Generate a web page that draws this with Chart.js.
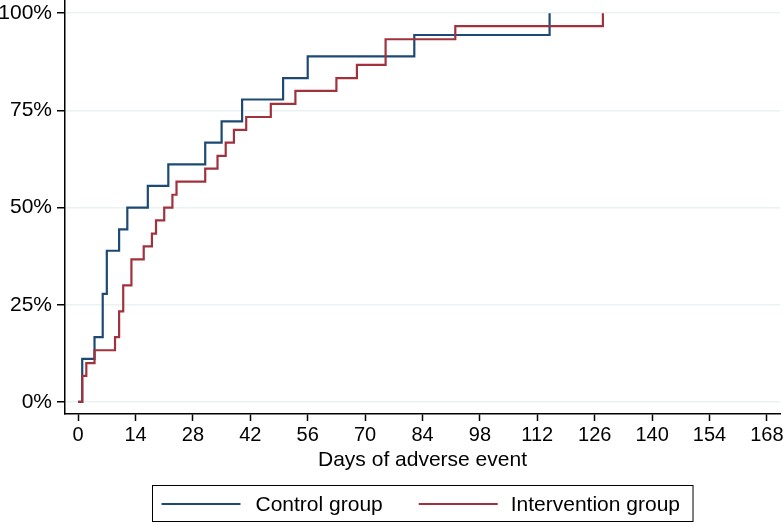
<!DOCTYPE html>
<html>
<head>
<meta charset="utf-8">
<title>Days of adverse event</title>
<script src="https://cdn.jsdelivr.net/npm/chart.js@4.4.1/dist/chart.umd.min.js"></script>
<style>
    body { margin: 0; background: #fff; }
    #wrap { width: 784px; height: 524px; }
</style>
</head>
<body>
<div id="wrap"><canvas id="aeChart" width="784" height="524"></canvas></div>
<script>
// Cumulative share of patients with an adverse event (%), step at each day
const controlDays = [0, 1, 4, 6, 7, 10, 12, 17, 22, 31, 35, 40, 50, 56, 82, 115];
const controlPct = [0, 11.1, 16.7, 27.8, 38.9, 44.4, 50.0, 55.6, 61.1, 66.7, 72.2, 77.8, 83.3, 88.9, 94.4, 100];

const interventionDays = [0, 1, 2, 4, 9, 10, 11, 13, 16, 18, 19, 21, 23, 24, 31, 34, 36, 38, 41, 47, 53, 63, 68, 75, 92, 128];
const interventionPct = [0, 6.7, 10.0, 13.3, 16.7, 23.3, 30.0, 36.7, 40.0, 43.3, 46.7, 50.0, 53.3, 56.7, 60.0, 63.3, 66.7, 70.0, 73.3, 76.7, 80.0, 83.3, 86.7, 93.3, 96.7, 100];

const xTicks = [0, 14, 28, 42, 56, 70, 84, 98, 112, 126, 140, 154, 168];
const yTicks = [0, 25, 50, 75, 100];

const seriesNames = ['Control group', 'Intervention group'];
const seriesColors = ['#1c4a74', '#a0323e'];

const FONT = '"Liberation Sans", Arial, Helvetica, sans-serif';

function toPoints(days, pct) {
    return days.map((d, i) => ({ x: d, y: pct[i] }));
}

// legend in a framed box under the axis title
const boxedLegend = {
    id: 'boxedLegend',
    afterDraw(chart) {
        const ctx = chart.ctx;
        const area = chart.chartArea;
        ctx.save();
        ctx.font = `21px ${FONT}`;
        const lineLen = 79;
        const textW = seriesNames.map(n => ctx.measureText(n).width);
        const widths = [9 + lineLen + 15 + textW[0] + 36, lineLen + 13 + textW[1] + 13];
        const boxW = widths[0] + widths[1];
        const left = Math.round((area.left + area.right) / 2 - boxW / 2) + 0.5;
        const top = 485.5, h = 36, midY = top + 18.5;

        ctx.strokeStyle = '#000';
        ctx.lineWidth = 1;
        ctx.strokeRect(left, top, boxW, h);

        let x = left + 9;
        seriesNames.forEach((name, i) => {
            ctx.strokeStyle = seriesColors[i];
            ctx.lineWidth = 2;
            ctx.beginPath();
            ctx.moveTo(x, midY);
            ctx.lineTo(x + lineLen, midY);
            ctx.stroke();
            ctx.fillStyle = '#000';
            ctx.textBaseline = 'middle';
            ctx.fillText(name, x + lineLen + (i === 0 ? 15 : 13), midY + 1);
            x += i === 0 ? widths[0] - 9 : 0;
        });
        ctx.restore();
    }
};

function renderChart() {
    const ctx = document.getElementById('aeChart').getContext('2d');

    new Chart(ctx, {
        type: 'line',
        data: {
            datasets: [{
                label: seriesNames[0],
                data: toPoints(controlDays, controlPct),
                borderColor: seriesColors[0],
                borderWidth: 2.2,
                stepped: true,
                pointRadius: 0,
                fill: false,
                order: 2
            }, {
                label: seriesNames[1],
                data: toPoints(interventionDays, interventionPct),
                borderColor: seriesColors[1],
                borderWidth: 2.2,
                stepped: true,
                pointRadius: 0,
                fill: false,
                order: 1
            }]
        },
        options: {
            responsive: false,
            animation: false,
            layout: {
                padding: { top: 0, right: 4, bottom: 53, left: 0 }
            },
            plugins: {
                legend: { display: false },
                tooltip: { enabled: false }
            },
            scales: {
                x: {
                    type: 'linear',
                    min: -3.2,
                    max: 171.2,
                    afterBuildTicks: scale => { scale.ticks = xTicks.map(v => ({ value: v })); },
                    afterFit: scale => {
                        scale.height = 57;
                        scale.paddingLeft = 0;
                        scale.paddingRight = 0;
                    },
                    ticks: {
                        color: '#000',
                        padding: 2,
                        maxRotation: 0,
                        font: { family: FONT, size: 20 }
                    },
                    grid: {
                        drawOnChartArea: false,
                        tickLength: 7,
                        tickColor: '#000',
                        tickWidth: 1.5
                    },
                    border: { color: '#000', width: 1.5 },
                    title: {
                        display: true,
                        text: 'Days of adverse event',
                        color: '#000',
                        padding: 0,
                        font: { family: FONT, size: 21, lineHeight: 1 }
                    }
                },
                y: {
                    min: -3.1,
                    max: 103.4,
                    afterBuildTicks: scale => { scale.ticks = yTicks.map(v => ({ value: v })); },
                    afterFit: scale => {
                        scale.width = 65;
                        scale.paddingTop = 0;
                        scale.paddingBottom = 0;
                    },
                    ticks: {
                        color: '#000',
                        padding: 5,
                        font: { family: FONT, size: 21 },
                        callback: v => v + '%'
                    },
                    grid: {
                        color: '#eaf2f3',
                        lineWidth: 1.5,
                        tickLength: 8,
                        tickColor: '#000',
                        tickWidth: 1.5
                    },
                    border: { color: '#000', width: 1.5 }
                }
            }
        },
        plugins: [boxedLegend]
    });
}

document.addEventListener('DOMContentLoaded', renderChart);
</script>
</body>
</html>
